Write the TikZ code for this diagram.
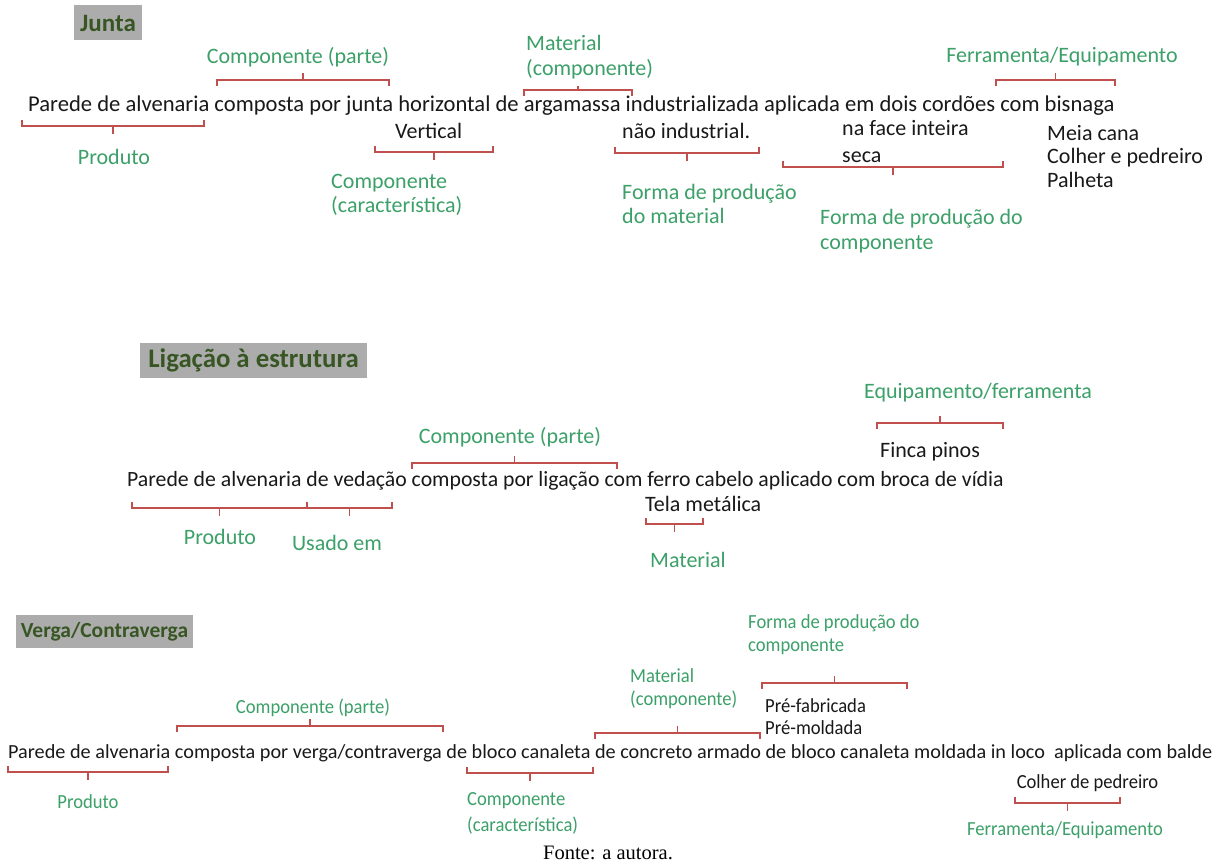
\documentclass[tikz,border=0pt]{standalone}
\usepackage{fontspec}
\usepackage{graphicx}
\setmainfont{Carlito}
\newfontfamily\condfont{Carlito}[FakeStretch=0.93]
\newfontfamily\fontefont{Liberation Serif}
\usetikzlibrary{positioning}

\definecolor{lblgreen}{RGB}{60,160,105}
\definecolor{brkred}{RGB}{192,80,77}
\definecolor{hdgreen}{RGB}{55,86,35}
\definecolor{hdgray}{RGB}{172,172,172}
\definecolor{txtblack}{RGB}{25,25,25}

% bracket over a span (ends point down, tick up)
\newcommand{\brkup}[4][7]{%
  \draw[brk] (#2,#4-6) -- (#2,#4) -- (#3,#4) -- (#3,#4-6);
  \draw[brk] ({(#2+#3)/2},#4) -- ++(0,#1);}
% bracket under a span (ends point up, tick down)
\newcommand{\brkdown}[3]{%
  \draw[brk] (#1,#3+6) -- (#1,#3) -- (#2,#3) -- (#2,#3+6);
  \draw[brk] ({(#1+#2)/2},#3) -- ++(0,-8);}

\begin{document}
\begin{tikzpicture}[
    x=1pt, y=1pt,
    heading/.style={fill=hdgray, text=hdgreen, inner sep=0, align=center},
    txt/.style={text=txtblack, inner sep=0, font=\fontsize{22}{26.5}\selectfont},
    lbl/.style={text=lblgreen, inner sep=0, font=\fontsize{22}{24.5}\selectfont},
    txtsm/.style={text=txtblack, inner sep=0, font=\condfont\fontsize{20}{22}\selectfont},
    lblsm/.style={text=lblgreen, inner sep=0, font=\condfont\fontsize{20}{23.5}\selectfont},
    brk/.style={draw=brkred, line width=1.4pt}
  ]
    \fill[white] (0,0) rectangle (1217,865);
    \useasboundingbox (0,0) rectangle (1217,865);

    % Junta
    \node[heading, minimum width=68, minimum height=35, font=\bfseries\fontsize{25}{30}\selectfont] (hjunta) at (108,842) {Junta};
    \node[lbl] (compparte1) at (298,808) {Componente (parte)};
    \node[lbl, align=left, anchor=west] (matcomp1) at (526,808) {Material\\(componente)};
    \node[lbl] (ferr1) at (1062,808) {Ferramenta/Equipamento};
    \node[txt, anchor=base west, font=\fontsize{22.6}{27}\selectfont] (line1) at (28,753) {Parede de alvenaria composta por junta horizontal de argamassa industrializada aplicada em dois cordões com bisnaga};
    \node[txt, anchor=base west] (vert1) at (395,726) {Vertical};
    \node[txt, anchor=base west] (naoind1) at (622,726) {não industrial.};
    \node[txt, anchor=base west] (face1) at (842,729) {na face inteira};
    \node[txt, anchor=base west] (seca1) at (842,702) {seca};
    \node[txt, align=left, anchor=west, font=\fontsize{22}{23.5}\selectfont] (ferrlist1) at (1047,708.5) {Meia cana\\Colher e pedreiro\\Palheta};
    \node[lbl] (prod1) at (114,708) {Produto};
    \node[lbl, align=left, anchor=west] (compcar1) at (331,670) {Componente\\(característica)};
    \node[lbl, align=left, anchor=west] (formamat1) at (622,661) {Forma de produção\\do material};
    \node[lbl, align=left, anchor=west] (formacomp1) at (820,634) {Forma de produção do\\componente};
    \brkup{217}{389}{785}
    \brkup[4]{524}{632}{775}
    \brkup{996}{1115}{785}
    \brkdown{22}{204}{739}
    \brkdown{375}{493}{713}
    \brkdown{615}{759}{712}
    \brkdown{783}{1003}{698}

    % Ligacao a estrutura
    \node[heading, minimum width=227, minimum height=35, font=\bfseries\fontsize{26.8}{30}\selectfont] (hlig) at (253.5,504.5) {Ligação à estrutura};
    \node[lbl] (equip2) at (978,472) {Equipamento/ferramenta};
    \node[txt, anchor=west] (finca2) at (880,413) {Finca pinos};
    \node[lbl] (compparte2) at (510,428) {Componente (parte)};
    \node[txt, anchor=base west, font=\fontsize{21.75}{26}\selectfont] (line2) at (127,378) {Parede de alvenaria de vedação composta por ligação com ferro cabelo aplicado com broca de vídia};
    \node[txt, anchor=west] (tela2) at (645,361) {Tela metálica};
    \node[lbl] (prod2) at (220,328) {Produto};
    \node[lbl] (usado2) at (337,322) {Usado em};
    \node[lbl] (mat2) at (688,305) {Material};
    \brkup{877}{1003}{442}
    \brkup{412}{617}{402}
    \brkdown{132}{307}{357}
    \brkdown{307}{392}{357}
    \brkdown{646}{703}{341}

    % Verga/Contraverga
    \node[heading, minimum width=177, minimum height=33, font=\bfseries\fontsize{21.5}{26}\selectfont] (hverga) at (104.5,233.5) {Verga/Contraverga};
    \node[lblsm, align=left, anchor=west] (formacomp3) at (748,230.5) {Forma de produção do\\componente};
    \node[lblsm, align=left, anchor=west] (matcomp3) at (630,176.5) {Material\\(componente)};
    \node[txtsm, align=left, anchor=west] (pre3) at (765,148) {Pré-fabricada\\Pré-moldada};
    \node[lblsm] (compparte3) at (313,157) {Componente (parte)};
    \node[txtsm, anchor=base west] (line3) at (8,107) {\resizebox{1204pt}{\height}{Parede de alvenaria composta por verga/contraverga de bloco canaleta de concreto armado de bloco canaleta moldada in loco\ \ aplicada com balde}};
    \node[lblsm] (prod3) at (88,63) {Produto};
    \node[lblsm, align=left, anchor=west, font=\condfont\fontsize{20}{26}\selectfont] (compcar3) at (467,51.5) {Componente\\(característica)};
    \node[txtsm] (colher3) at (1087.5,82) {Colher de pedreiro};
    \node[lblsm] (ferr3) at (1065,35) {Ferramenta/Equipamento};
    \brkup{762}{907}{182}
    \brkup{177}{443}{139}
    \brkup{595}{760}{132}
    \brkdown{8}{168}{93}
    \brkdown{467}{593}{92}
    \brkdown{1015}{1120}{62}

    \node[font=\fontefont\fontsize{20.5}{24}\selectfont] (fonte) at (608,12) {Fonte: a autora.};
  \end{tikzpicture}
\end{document}
